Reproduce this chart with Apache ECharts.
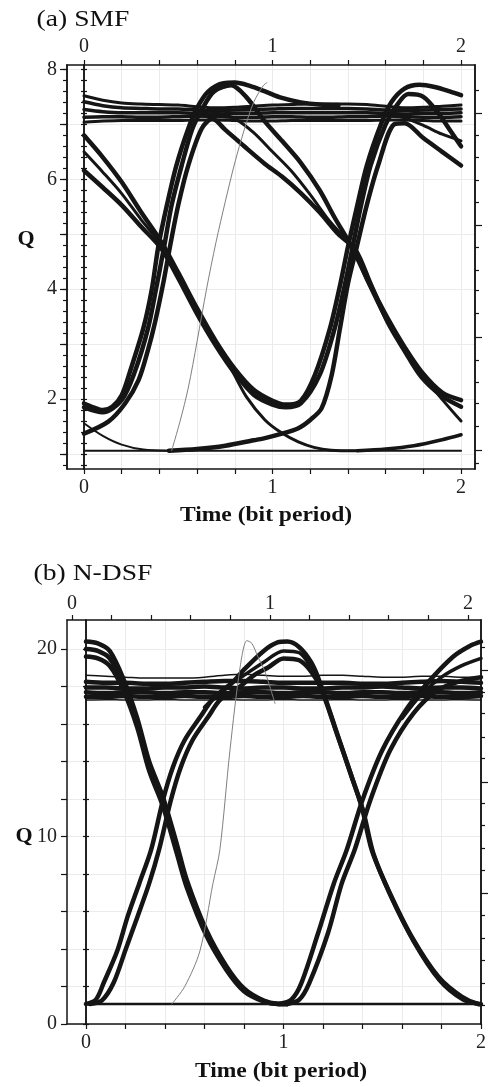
<!DOCTYPE html>
<html><head><meta charset="utf-8">
<script src="https://cdn.jsdelivr.net/npm/echarts@6/dist/echarts.min.js"></script>
<style>html,body{margin:0;padding:0;background:#fff}#c{width:490px;height:1087px}</style>
</head><body><div id="c"></div>
<script>
// ---------- tick values / labels ----------
const xTicks = [0,0.2,0.4,0.6,0.8,1,1.2,1.4,1.6,1.8,2];
const xLabels = [0,1,2];
const aYMajor = [1,2,3,4,5,6,7,8];
const aYLabels = [2,4,6,8];
const aYMinor = [0.8,1,1.2,1.4,1.6,1.8,2,2.2,2.4,2.6,2.8,3,3.2,3.4,3.6,3.8,4,4.2,4.4,4.6,4.8,5,5.2,5.4,5.6,5.8,6,6.2,6.4,6.6,6.8,7,7.2,7.4,7.6,7.8,8];
const aRightShort = [7.62,6.8,6.41,5.98,5.59,4.77,4.35,3.98,3.56,2.71,2.31,1.92,1.5,0.83];
const aRightLong = [7.195,5.16,3.13,1.07];
const bYTicks = [0,2,4,6,8,10,12,14,16,18,20];
const bYLabels = [0,10,20];
const bRightShort = [20.12,17.72,16.57,15.32,14.18,11.77,10.61,9.37,8.21,5.81,4.57,3.41,2.17,1.01];
const bRightLong = [18.88,12.92,7.0];

// ---------- (a) SMF traces ----------
const aOneX = [0,0.1,0.2,0.3,0.4,0.5,0.6,0.7,0.8,0.9,1,1.1,1.2,1.3,1.4,1.5,1.6,1.7,1.8,1.9,2];
const aOne1 = [7.52,7.44,7.39,7.37,7.36,7.35,7.32,7.3,7.31,7.33,7.35,7.36,7.37,7.37,7.37,7.36,7.33,7.3,7.31,7.33,7.35];
const aOne2 = [7.41,7.34,7.3,7.29,7.28,7.28,7.26,7.25,7.26,7.27,7.28,7.29,7.29,7.29,7.29,7.28,7.26,7.25,7.26,7.27,7.28];
const aOne3 = [7.27,7.23,7.21,7.21,7.21,7.21,7.2,7.19,7.2,7.2,7.21,7.21,7.21,7.21,7.21,7.21,7.2,7.19,7.2,7.2,7.21];
const aOne4 = [7.13,7.14,7.14,7.13,7.13,7.14,7.15,7.14,7.13,7.13,7.14,7.14,7.13,7.13,7.14,7.14,7.15,7.14,7.13,7.13,7.14];
const aOne5 = [7.04,7.06,7.07,7.07,7.07,7.07,7.08,7.08,7.07,7.06,7.06,7.07,7.07,7.07,7.07,7.07,7.08,7.08,7.07,7.06,7.06];

const aT1x = [0,0.1,0.2,0.3,0.41,0.5,0.6,0.7,0.8,0.9,1.0,1.07,1.15,1.225,1.305,1.36,1.40,1.45,1.50,1.575,1.63,1.7,1.78,1.86,1.94,2.0];
const aT1y = [6.8,6.4,5.95,5.42,4.86,4.3,3.65,3.05,2.55,2.17,1.97,1.9,1.97,2.44,3.29,4.1,4.77,5.53,6.25,7.0,7.4,7.65,7.72,7.68,7.6,7.53];
const aT2x = [0,0.1,0.2,0.3,0.41,0.5,0.6,0.7,0.8,0.9,1.0,1.07,1.15,1.25,1.33,1.385,1.425,1.47,1.52,1.6,1.66,1.72,1.8,1.88,1.95,2.0];
const aT2y = [6.16,5.85,5.53,5.15,4.74,4.2,3.55,2.97,2.47,2.08,1.9,1.85,1.92,2.44,3.29,4.1,4.77,5.53,6.25,7.0,7.35,7.55,7.5,7.2,6.85,6.6];
const aT3x = [0.45,0.6,0.75,0.9,0.96,1.05,1.137,1.2,1.26,1.314,1.358,1.40,1.447,1.5,1.56,1.645,1.7,1.8,1.9,2.0];
const aT3y = [1.06,1.09,1.15,1.25,1.29,1.37,1.47,1.62,1.83,2.44,3.29,4.1,4.77,5.53,6.25,7.0,7.02,6.75,6.5,6.25];
const aT4x = [0,0.05,0.1,0.15,0.2,0.244,0.315,0.36,0.394,0.44,0.49,0.553,0.6,0.66,0.74,0.8,0.88,0.96,1.05,1.15,1.25,1.35];
const aT4y = [1.92,1.85,1.8,1.86,2.07,2.5,3.29,4.0,4.77,5.53,6.25,6.92,7.3,7.6,7.75,7.76,7.7,7.6,7.48,7.4,7.36,7.35];
const aT5x = [0,0.1,0.2,0.27,0.34,0.385,0.425,0.465,0.518,0.575,0.63,0.69,0.78,0.86,0.96,1.05,1.15,1.25,1.33,1.42,1.5,1.614,1.7,1.79,1.9,2.0];
const aT5y = [1.85,1.76,1.98,2.5,3.29,4.05,4.77,5.53,6.25,6.92,7.3,7.6,7.71,7.5,7.05,6.7,6.3,5.8,5.3,4.77,4.2,3.45,2.95,2.5,2.12,1.98];
const aT6x = [0,0.129,0.218,0.29,0.34,0.377,0.42,0.456,0.5,0.553,0.624,0.68,0.75,0.85,0.96,1.05,1.15,1.25,1.35,1.44,1.52,1.614,1.7,1.79,1.9,2.0];
const aT6y = [1.37,1.59,1.92,2.35,2.9,3.4,4.1,4.77,5.53,6.25,6.92,7.1,6.9,6.6,6.28,6.05,5.75,5.4,5.0,4.72,4.1,3.38,2.88,2.4,2.05,1.86];
const aT7x = [0,0.1,0.2,0.3,0.41,0.5,0.6,0.7,0.78,0.86,0.96,1.05,1.137,1.22,1.31,1.45];
const aT7y = [6.5,6.13,5.74,5.28,4.8,4.23,3.58,2.98,2.55,2.05,1.62,1.38,1.22,1.12,1.07,1.06];
const aT8x = [0.62,0.7,0.8,0.9,1.0,1.1,1.2,1.3,1.42,1.5,1.6,1.72,1.85,2.0];
const aT8y = [7.15,7.2,7.1,6.85,6.5,6.15,5.72,5.25,4.77,4.16,3.46,2.8,2.2,1.6];
const aT9x = [0,0.1,0.2,0.315,0.45];
const aT9y = [1.56,1.33,1.17,1.08,1.06];
const aT10x = [1.45,1.6,1.75,1.9,2.0];
const aT10y = [1.06,1.09,1.15,1.26,1.35];
const aZeroX = [0,2];
const aZeroY = [1.06,1.06];
const aT12x = [1.6,1.7,1.8,1.9,2.0];
const aT12y = [7.2,7.12,6.98,6.82,6.7];
const aGrayX = [0.465,0.51,0.553,0.6,0.65,0.7,0.75,0.8,0.85,0.9,0.95,0.97];
const aGrayY = [1.06,1.6,2.2,3.05,4.0,4.85,5.6,6.3,6.9,7.4,7.7,7.76];

// ---------- (b) N-DSF traces ----------
const bOneX = [0,0.1,0.2,0.3,0.4,0.5,0.6,0.7,0.8,0.9,1,1.1,1.2,1.3,1.4,1.5,1.6,1.7,1.8,1.9,2];
const bOne1 = [18.6,18.55,18.5,18.45,18.45,18.45,18.5,18.6,18.65,18.6,18.55,18.55,18.6,18.6,18.55,18.5,18.5,18.55,18.55,18.5,18.5];
const bOne2 = [18.25,18.2,18.2,18.15,18.15,18.2,18.25,18.3,18.3,18.25,18.2,18.2,18.2,18.2,18.15,18.15,18.2,18.25,18.3,18.25,18.2];
const bOne3 = [17.95,17.95,17.9,17.9,17.95,17.95,18.0,17.95,17.9,17.95,17.95,17.9,17.9,17.95,17.95,18.0,17.95,17.9,17.95,17.95,17.9];
const bOne4 = [17.7,17.65,17.7,17.7,17.65,17.7,17.7,17.65,17.7,17.7,17.65,17.7,17.7,17.65,17.7,17.7,17.65,17.7,17.7,17.65,17.7];
const bOne5 = [17.45,17.45,17.5,17.45,17.45,17.5,17.45,17.45,17.5,17.45,17.45,17.5,17.45,17.45,17.5,17.45,17.45,17.5,17.45,17.45,17.5];
const bOne6 = [17.28,17.3,17.28,17.28,17.3,17.28,17.28,17.3,17.28,17.28,17.3,17.28,17.28,17.3,17.28,17.28,17.3,17.28,17.28,17.3,17.28];
const bFx = [0,0.06,0.12,0.19,0.26,0.32,0.39,0.46,0.51,0.61,0.71,0.8,0.9,0.97,1.02];
const bF1 = [20.4,20.3,19.9,18.4,16.3,14.0,12.1,9.6,7.7,5.0,3.1,1.9,1.25,1.08,1.07];
const bFm = [20.0,19.9,19.5,18.1,16.05,13.75,11.85,9.35,7.5,4.85,3.0,1.82,1.22,1.07,1.07];
const bF2 = [19.6,19.5,19.1,17.8,15.8,13.5,11.6,9.1,7.3,4.7,2.9,1.75,1.2,1.07,1.07];
const bRLx = [0,0.05,0.09,0.16,0.21,0.27,0.33,0.39,0.44,0.5,0.58,0.64,0.74,0.8,0.9,0.97,1.02,1.08,1.14,1.18,1.26,1.345,1.396,1.447,1.531,1.649,1.784,1.902,1.986,2.0];
const bRLy = [1.07,1.3,2.2,3.95,5.7,7.5,9.3,11.95,13.7,15.15,16.4,17.3,18.2,18.9,19.9,20.35,20.4,20.1,19.3,18.35,15.86,13.19,11.59,9.28,7.15,4.66,2.52,1.46,1.07,1.06];
const bRRx = [0.02,0.08,0.14,0.2,0.26,0.32,0.37,0.43,0.48,0.54,0.62,0.68,0.78,0.85,0.92,1.0,1.08,1.14,1.19,1.27,1.355,1.405,1.455,1.54,1.66,1.79,1.91,1.99];
const bRRy = [1.07,1.25,2.2,3.95,5.7,7.5,9.3,11.95,13.7,15.15,16.4,17.3,18.0,18.6,19.0,19.5,19.4,18.8,17.9,15.5,12.9,11.3,9.1,6.9,4.4,2.35,1.3,1.07];
const bRMx = [0.6,0.7,0.8,0.9,1.0,1.08,1.14,1.18];
const bRMy = [16.9,17.9,18.6,19.3,19.9,19.8,19.0,18.1];
const bR2Lx = [0.98,1.04,1.09,1.175,1.255,1.32,1.4,1.5,1.62,1.73,1.86,1.95,2.0];
const bR2Ly = [1.07,1.3,2.17,4.84,7.5,9.28,11.95,14.6,16.75,18.2,19.6,20.2,20.4];
const bR2Rx = [1.02,1.08,1.13,1.225,1.295,1.36,1.44,1.54,1.66,1.78,1.9,2.0];
const bR2Ry = [1.07,1.3,2.17,4.84,7.5,9.28,11.95,14.6,16.6,17.8,18.3,18.5];
const bR2Mx = [1.6,1.7,1.8,1.9,2.0];
const bR2My = [16.3,17.6,18.5,19.1,19.5];
const bZeroX = [0,2];
const bZeroY = [1.07,1.07];
const bGrayX = [0.435,0.5,0.577,0.643,0.678,0.729,0.78,0.815,0.84,0.87,0.906,0.957];
const bGrayY = [1.07,2.0,3.9,7.5,9.3,14.6,19.0,20.45,20.3,19.6,18.8,17.1];

// ---------- chart ----------
const BLACK = '#151515';
const FONT = 'Liberation Serif';
const GRID_C = '#ebebeb';
const aMin = 0.727, aMax = 8.08, bMin = 0, bMax = 21.55;

function xA(grid, pos, min, max, extra) {
  return Object.assign({
    gridIndex: grid, type: 'value', position: pos, min: min, max: max,
    axisLine: {onZero: false, lineStyle: {color: BLACK, width: 1.5}},
    axisTick: {show: true, customValues: xTicks, length: 5, lineStyle: {color: BLACK, width: 1.2}},
    axisLabel: {show: true, customValues: xLabels, margin: 9, fontFamily: FONT, fontSize: 20, color: '#222'},
    splitLine: {show: false}
  }, extra || {});
}
function yA(grid, pos, min, max, extra) {
  return Object.assign({
    gridIndex: grid, type: 'value', position: pos, min: min, max: max,
    axisLine: {onZero: false, lineStyle: {color: BLACK, width: 1.5}},
    axisTick: {show: false},
    axisLabel: {show: false},
    splitLine: {show: false}
  }, extra || {});
}
function tk(vals, len, inside) {
  return {show: true, customValues: vals, length: len, inside: !!inside, lineStyle: {color: BLACK, width: 1.2}};
}
function ln(xs, ys, xi, yi, w, color) {
  return {
    type: 'line', xAxisIndex: xi, yAxisIndex: yi,
    data: xs.map((x, i) => [x, ys[i]]),
    symbol: 'none', showSymbol: false, smooth: 0.3,
    lineStyle: {color: color || BLACK, width: w, join: 'round', cap: 'round'}, silent: true, z: 3
  };
}

const xAxis = [
  xA(0, 'bottom', -0.09, 2.074, {splitLine: {show: true, lineStyle: {color: GRID_C, width: 1}}}),
  xA(0, 'top', -0.09, 2.074, {axisLabel: {show: true, customValues: xLabels, margin: 8, fontFamily: FONT, fontSize: 20, color: '#222'}}),
  xA(1, 'bottom', -0.096, 2.0, {splitLine: {show: true, lineStyle: {color: GRID_C, width: 1}}}),
  xA(1, 'top', -0.025, 2.066, {axisLabel: {show: true, customValues: xLabels, margin: 6, fontFamily: FONT, fontSize: 20, color: '#222'}})
];
const yAxis = [
  yA(0, 'left', aMin, aMax, {axisTick: tk(aYMajor, 7), axisLabel: {show: true, customValues: aYLabels, margin: 10, fontFamily: FONT, fontSize: 20, color: '#222'}, splitLine: {show: true, lineStyle: {color: GRID_C, width: 1}}}),
  yA(0, 'left', aMin, aMax, {axisTick: tk(aYMinor, 4)}),
  yA(0, 'left', aMin, aMax, {offset: -17, axisTick: tk(aYMinor, 3)}),
  yA(0, 'left', aMin, aMax, {offset: -17, axisTick: tk(aYMinor, 3, true)}),
  yA(0, 'right', aMin, aMax, {axisTick: tk(aRightShort, 4)}),
  yA(0, 'right', aMin, aMax, {axisTick: tk(aRightLong, 7)}),
  yA(1, 'left', bMin, bMax, {axisTick: tk(bYTicks, 6), axisLabel: {show: true, customValues: bYLabels, margin: 10, fontFamily: FONT, fontSize: 20, color: '#222'}, splitLine: {show: true, lineStyle: {color: GRID_C, width: 1}}}),
  yA(1, 'left', bMin, bMax, {offset: -19, axisTick: tk(bYTicks, 3)}),
  yA(1, 'left', bMin, bMax, {offset: -19, axisTick: tk(bYTicks, 3, true)}),
  yA(1, 'right', bMin, bMax, {axisTick: tk(bRightShort, 4)}),
  yA(1, 'right', bMin, bMax, {axisTick: tk(bRightLong, 7)})
];

const series = [
  // (a)
  ln(aOneX, aOne1, 0, 0, 3), ln(aOneX, aOne2, 0, 0, 3.5), ln(aOneX, aOne3, 0, 0, 3.5),
  ln(aOneX, aOne4, 0, 0, 3.5), ln(aOneX, aOne5, 0, 0, 3),
  ln(aT1x, aT1y, 0, 0, 4.5), ln(aT2x, aT2y, 0, 0, 4.5), ln(aT3x, aT3y, 0, 0, 4.5),
  ln(aT4x, aT4y, 0, 0, 4.5), ln(aT5x, aT5y, 0, 0, 4.5), ln(aT6x, aT6y, 0, 0, 4.5),
  ln(aT7x, aT7y, 0, 0, 3), ln(aT8x, aT8y, 0, 0, 3), ln(aT9x, aT9y, 0, 0, 2),
  ln(aT10x, aT10y, 0, 0, 3.5), ln(aZeroX, aZeroY, 0, 0, 2), ln(aT12x, aT12y, 0, 0, 3),
  ln(aGrayX, aGrayY, 0, 0, 1, '#808080'),
  // (b)
  ln(bOneX, bOne1, 2, 6, 1.5), ln(bOneX, bOne2, 2, 6, 4.5), ln(bOneX, bOne3, 2, 6, 4.5),
  ln(bOneX, bOne4, 2, 6, 4.5), ln(bOneX, bOne5, 2, 6, 4.5), ln(bOneX, bOne6, 2, 6, 1.5),
  ln(bFx, bF1, 2, 6, 4.5), ln(bFx, bFm, 2, 6, 4.5), ln(bFx, bF2, 2, 6, 4.5),
  ln(bRLx, bRLy, 2, 6, 4.5), ln(bRRx, bRRy, 2, 6, 4.5), ln(bRMx, bRMy, 2, 6, 3.5),
  ln(bR2Lx, bR2Ly, 2, 6, 4.5), ln(bR2Rx, bR2Ry, 2, 6, 4.5), ln(bR2Mx, bR2My, 2, 6, 3.5),
  ln(bZeroX, bZeroY, 2, 6, 2.5),
  ln(bGrayX, bGrayY, 2, 6, 1, '#808080')
];

function txt(t, x, y, size, weight, sx) {
  return {type: 'text', x: x, y: y, scaleX: sx || 1, silent: true,
    style: {text: t, fontFamily: FONT, fontSize: size, fontWeight: weight || 'normal', fill: '#111', align: 'center', verticalAlign: 'middle'}};
}

const option = {
  animation: false,
  backgroundColor: '#fff',
  grid: [
    {left: 67, top: 65, width: 408, height: 404, containLabel: false},
    {left: 67, top: 620, width: 414, height: 404, containLabel: false}
  ],
  xAxis: xAxis,
  yAxis: yAxis,
  series: series,
  graphic: [
    txt('(a) SMF', 83, 20, 24, 'normal', 1.15),
    txt('(b) N-DSF', 93, 574, 24, 'normal', 1.15),
    txt('Q', 26, 239, 22, 'bold'),
    txt('Q', 24, 836, 22, 'bold'),
    txt('Time (bit period)', 266, 515, 22, 'bold', 1.07),
    txt('Time (bit period)', 281, 1071, 22, 'bold', 1.07)
  ]
};
const chart = echarts.init(document.getElementById('c'), null, {renderer: 'canvas'});
chart.setOption(option);
</script></body></html>
